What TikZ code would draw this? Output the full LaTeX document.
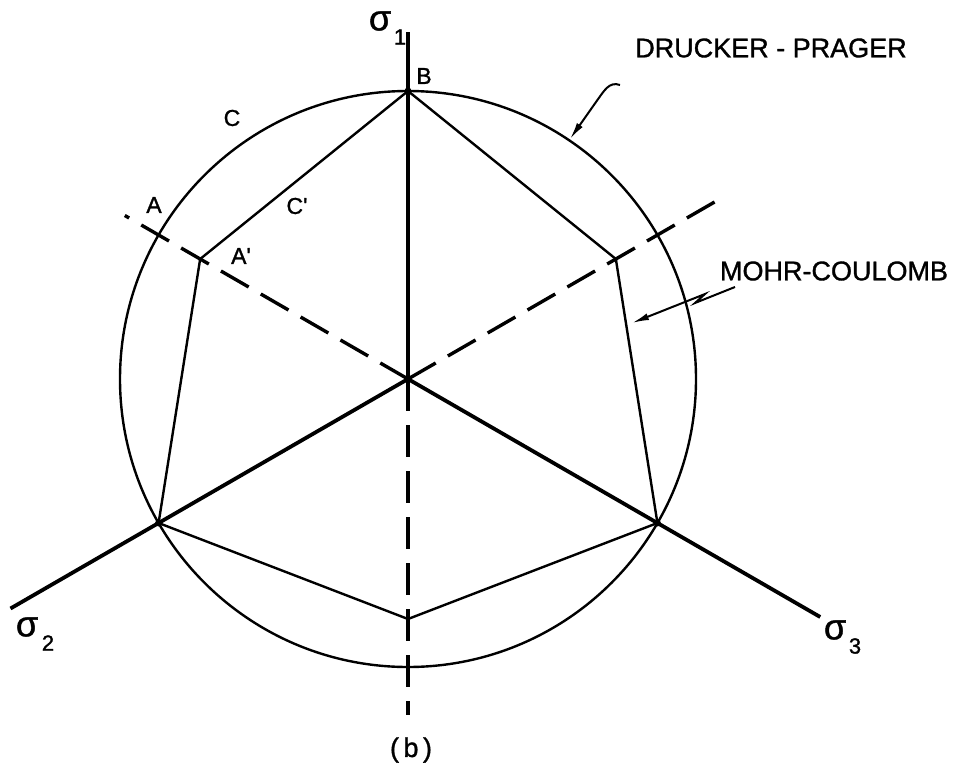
\documentclass[tikz,border=0pt]{standalone}
\usepackage{fontspec}
\setmainfont{Liberation Sans}
\newfontfamily\letterfont[FakeBold=1.2]{Liberation Sans}
\usetikzlibrary{arrows.meta,calc}
\begin{document}
\begin{tikzpicture}[x=1pt,y=1pt,
  axisline/.style={line width=3.8pt},
  dashaxis/.style={line width=3.4pt, dash pattern=on 32pt off 14pt},
  mcline/.style={line width=2.4pt, line join=miter},
  dpline/.style={line width=2.4pt},
  lbl/.style={inner sep=0pt, font=\letterfont\fontsize{23}{23}\selectfont},
  biglbl/.style={inner sep=0pt, font=\letterfont\fontsize{27}{27}\selectfont},
  sig/.style={inner sep=0pt, font=\letterfont\fontsize{36}{36}\selectfont},
  sigsub/.style={inner sep=0pt, font=\letterfont\fontsize{22}{22}\selectfont},
  leader/.style={line width=2pt, -{Latex[length=17pt,width=7pt]}},
  vdot/.style={circle, fill=black, inner sep=0pt, minimum size=7pt}]
\useasboundingbox (0,0) rectangle (960,-771);
\coordinate (O) at (408,-379);
% Mohr-Coulomb vertices
\coordinate (B)  at ($(O)+(90:288)$);
\coordinate (UR) at ($(O)+(30:240)$);
\coordinate (LR) at ($(O)+(330:288)$);
\coordinate (BT) at ($(O)+(270:240)$);
\coordinate (LL) at ($(O)+(210:288)$);
\coordinate (AP) at ($(O)+(150:240)$);
% axis ends
\coordinate (S1) at ($(O)+(90:347)$);
\coordinate (S2) at ($(O)+(210:459)$);
\coordinate (S3) at ($(O)+(330:476)$);
\coordinate (D1) at ($(O)+(270:336)$);
\coordinate (D2) at ($(O)+(150:327)$);
\coordinate (D3) at ($(O)+(30:356)$);
% Drucker-Prager circle
\draw[dpline] (O) circle[radius=288];
% dashed axes
\draw[dashaxis] (O) -- (D1);
\draw[dashaxis] (O) -- (D2);
\draw[dashaxis] (O) -- (D3);
% solid axes
\draw[axisline] (O) -- (S1);
\draw[axisline] (O) -- (S2);
\draw[axisline] (O) -- (S3);
% Mohr-Coulomb hexagon
\draw[mcline] (B) -- (UR) -- (LR) -- (BT) -- (LL) -- (AP) -- cycle;
\node[vdot] (dB) at (B) {};
\node[vdot] (dLL) at (LL) {};
\node[vdot] (dLR) at (LR) {};
% labels
\node[sig] (s1) at (380,-21) {σ};
\node[sigsub] (s1n) at (400,-37) {1};
\node[sig] (s2) at (27,-627) {σ};
\node[sigsub] (s2n) at (48,-643) {2};
\node[sig] (s3) at (835,-630) {σ};
\node[sigsub] (s3n) at (855,-646) {3};
\node[lbl] (lB) at (424,-76) {B};
\node[lbl] (lC) at (232,-118) {C};
\node[lbl] (lA) at (154,-205) {A};
\node[lbl] (lCp) at (297,-206) {C\textquotesingle};
\node[lbl] (lAp) at (241,-256) {A\textquotesingle};
\node[biglbl] (dp) at (771,-48) {\scalebox{1.0}[1]{DRUCKER - PRAGER}};
\node[biglbl] (mc) at (834,-271) {\scalebox{1.0}[1]{MOHR-COULOMB}};
\node[biglbl] (cap) at (411,-750) {(\,b\,)};
% leaders
\coordinate (dpS) at (620,-85);
\coordinate (dpT) at (570,-139);
\draw[leader] (dpS) .. controls (609,-81) and (604,-91) .. (596,-102) -- (dpT);
\coordinate (mcA) at (735,-287);
\coordinate (mcB) at (695,-303);
\coordinate (mcC) at (705,-294);
\coordinate (mcT) at (632,-323);
\draw[leader] (mcA) -- (mcB) -- (mcC) -- (mcT);
\end{tikzpicture}
\end{document}
